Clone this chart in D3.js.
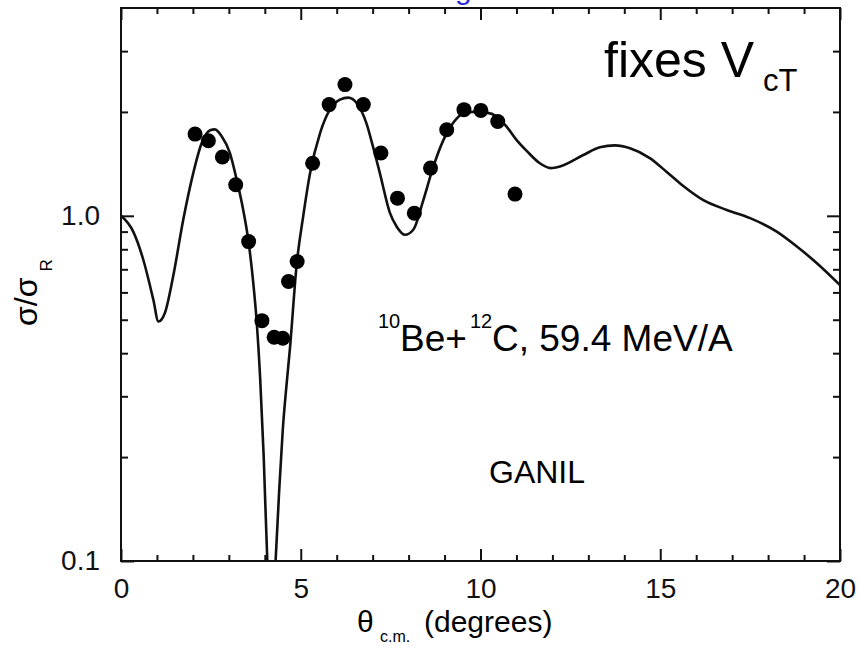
<!DOCTYPE html>
<html>
<head>
<meta charset="utf-8">
<script src="https://cdn.jsdelivr.net/npm/d3@7"></script>
<style>
  body { margin: 0; background: #fff; }
  svg { display: block; font-family: "Liberation Sans", Arial, Helvetica, sans-serif; }
</style>
</head>
<body>
<svg id="chart" width="859" height="650"></svg>
<script>
// Measured elastic scattering ratio (θ c.m. in degrees, σ/σR)
const dataTheta = [2.06, 2.43, 2.82, 3.19, 3.55, 3.92, 4.26, 4.50, 4.66, 4.90, 5.33, 5.79,
                   6.23, 6.74, 7.23, 7.69, 8.16, 8.61, 9.06, 9.54, 10.01, 10.48, 10.96];
const dataRatio = [1.725, 1.65, 1.48, 1.23, 0.842, 0.497, 0.445, 0.442, 0.645, 0.737, 1.42, 2.10,
                   2.40, 2.10, 1.52, 1.125, 1.018, 1.375, 1.775, 2.03, 2.02, 1.876, 1.156];

// Calculated curve
const calcTheta = [0.0, 0.34, 0.62, 0.90, 1.04, 1.22, 1.45, 1.73, 2.01, 2.24, 2.48, 2.61, 2.80,
                   3.03, 3.22, 3.40, 3.54, 3.68, 3.77, 3.87, 3.97, 4.07, 4.18, 4.30, 4.40, 4.50,
                   4.60, 4.70, 4.89, 5.07, 5.26, 5.54, 5.81, 6.09, 6.32, 6.56, 6.83, 7.00, 7.20,
                   7.48, 7.67, 7.90, 8.13, 8.41, 8.69, 8.97, 9.24, 9.52, 9.80, 10.17, 10.45,
                   10.73, 11.00, 11.29, 11.65, 11.95, 12.21, 12.86, 13.32, 13.74, 14.16, 14.71,
                   15.18, 15.64, 16.20, 16.85, 17.50, 18.24, 18.80, 19.35, 20.00];
const calcRatio = [1.0, 0.90, 0.746, 0.571, 0.494, 0.523, 0.667, 0.973, 1.33, 1.62, 1.77, 1.78, 1.70,
                   1.52, 1.27, 1.04, 0.852, 0.638, 0.50, 0.34, 0.20, 0.10, 0.065, 0.10, 0.16, 0.24,
                   0.32, 0.414, 0.729, 1.0, 1.33, 1.74, 2.03, 2.17, 2.20, 2.12, 1.85, 1.60, 1.33,
                   1.02, 0.93, 0.881, 0.911, 1.11, 1.39, 1.66, 1.86, 1.98, 2.00, 1.99, 1.94,
                   1.81, 1.66, 1.54, 1.42, 1.375, 1.39, 1.50, 1.58, 1.60, 1.57, 1.47,
                   1.34, 1.22, 1.11, 1.04, 0.985, 0.90, 0.815, 0.73, 0.63];

// Axis ticks
const xMajor = [0, 5, 10, 15, 20];
const xMinor = d3.range(0, 21).filter(v => v % 5 !== 0);
const yLabeled = [0.1, 1.0];
const yMinor = [0.2, 0.3, 0.4, 0.5, 0.6, 0.7, 0.8, 0.9, 2, 3];

const svg = d3.select("#chart");
const plotL = 121, plotR = 840, plotT = 8, plotB = 561;

const x = d3.scaleLinear().domain([0, 20]).range([plotL, plotR]);
const y = d3.scaleLog().domain([0.1, 4]).range([plotB, plotT]);

// clip for the curve
svg.append("defs").append("clipPath").attr("id", "plotClip")
  .append("rect").attr("x", plotL).attr("y", plotT)
  .attr("width", plotR - plotL).attr("height", plotB - plotT);

const tickStyle = g => {
  g.select(".domain").remove();
  g.selectAll(".tick line").attr("stroke", "#111").attr("stroke-width", 2);
  g.selectAll(".tick text").attr("fill", "#111").attr("font-size", 28)
    .attr("font-family", "Liberation Sans, Arial, sans-serif");
};

// bottom
svg.append("g").attr("transform", `translate(0,${plotB})`)
  .call(d3.axisBottom(x).tickValues(xMinor).tickSize(-6).tickFormat(""))
  .call(tickStyle);
svg.append("g").attr("transform", `translate(0,${plotB})`)
  .call(d3.axisBottom(x).tickValues(xMajor).tickSize(-12).tickPadding(17).tickFormat(d3.format("d")))
  .call(tickStyle);
// top
svg.append("g").attr("transform", `translate(0,${plotT})`)
  .call(d3.axisTop(x).tickValues(xMinor).tickSize(-6).tickFormat(""))
  .call(tickStyle);
svg.append("g").attr("transform", `translate(0,${plotT})`)
  .call(d3.axisTop(x).tickValues(xMajor).tickSize(-12).tickFormat(""))
  .call(tickStyle);
// left
svg.append("g").attr("transform", `translate(${plotL},0)`)
  .call(d3.axisLeft(y).tickValues(yMinor).tickSize(-7).tickFormat(""))
  .call(tickStyle);
svg.append("g").attr("transform", `translate(${plotL},0)`)
  .call(d3.axisLeft(y).tickValues(yLabeled).tickSize(-13).tickPadding(21).tickFormat(d3.format(".1f")))
  .call(tickStyle);
// right
svg.append("g").attr("transform", `translate(${plotR},0)`)
  .call(d3.axisRight(y).tickValues(yMinor).tickSize(-7).tickFormat(""))
  .call(tickStyle);
svg.append("g").attr("transform", `translate(${plotR},0)`)
  .call(d3.axisRight(y).tickValues(yLabeled).tickSize(-13).tickFormat(""))
  .call(tickStyle);

// frame
svg.append("rect").attr("x", plotL).attr("y", plotT)
  .attr("width", plotR - plotL).attr("height", plotB - plotT)
  .attr("fill", "none").attr("stroke", "#111").attr("stroke-width", 2);

// calculated curve
const curvePts = calcTheta.map((t, i) => [t, calcRatio[i]]);
svg.append("path")
  .datum(curvePts)
  .attr("clip-path", "url(#plotClip)")
  .attr("fill", "none").attr("stroke", "#111").attr("stroke-width", 2.6)
  .attr("d", d3.line().x(d => x(d[0])).y(d => y(d[1])).curve(d3.curveMonotoneX));

// measured points
svg.append("g").selectAll("circle")
  .data(dataTheta.map((t, i) => [t, dataRatio[i]]))
  .join("circle")
  .attr("cx", d => x(d[0])).attr("cy", d => y(d[1]))
  .attr("r", 7.5).attr("fill", "#000");

// annotations
const fixes = svg.append("text").attr("x", 604).attr("y", 77).attr("fill", "#000");
fixes.append("tspan").attr("font-size", 50).text("fixes V");
fixes.append("tspan").attr("font-size", 31).attr("x", 763).attr("y", 91).text("cT");

const reac = svg.append("g").attr("fill", "#000");
reac.append("text").attr("x", 378).attr("y", 328).attr("font-size", 20).text("10");
reac.append("text").attr("x", 400).attr("y", 351).attr("font-size", 37).text("Be+");
reac.append("text").attr("x", 470).attr("y", 328).attr("font-size", 20).text("12");
reac.append("text").attr("x", 492).attr("y", 351).attr("font-size", 37).text("C, 59.4 MeV/A");

svg.append("text").attr("x", 489).attr("y", 483).attr("font-size", 32).attr("fill", "#000").text("GANIL");

// axis titles
const xt = svg.append("text").attr("y", 632).attr("fill", "#000");
xt.append("tspan").attr("x", 357).attr("font-size", 30).text("θ");
xt.append("tspan").attr("x", 380).attr("y", 642).attr("font-size", 16).text("c.m.");
xt.append("tspan").attr("x", 424).attr("y", 632).attr("font-size", 30).text("(degrees)");

const yt = svg.append("text").attr("transform", "translate(37,326) rotate(-90)").attr("fill", "#000");
yt.append("tspan").attr("font-size", 32).text("σ/σ");
yt.append("tspan").attr("font-size", 17).attr("dx", 6).attr("dy", 15).text("R");

// blue heading line above the frame
svg.append("text").attr("x", 455).attr("y", -1).attr("font-size", 30)
  .attr("fill", "#2a2ad8").text("g");
</script>
</body>
</html>
